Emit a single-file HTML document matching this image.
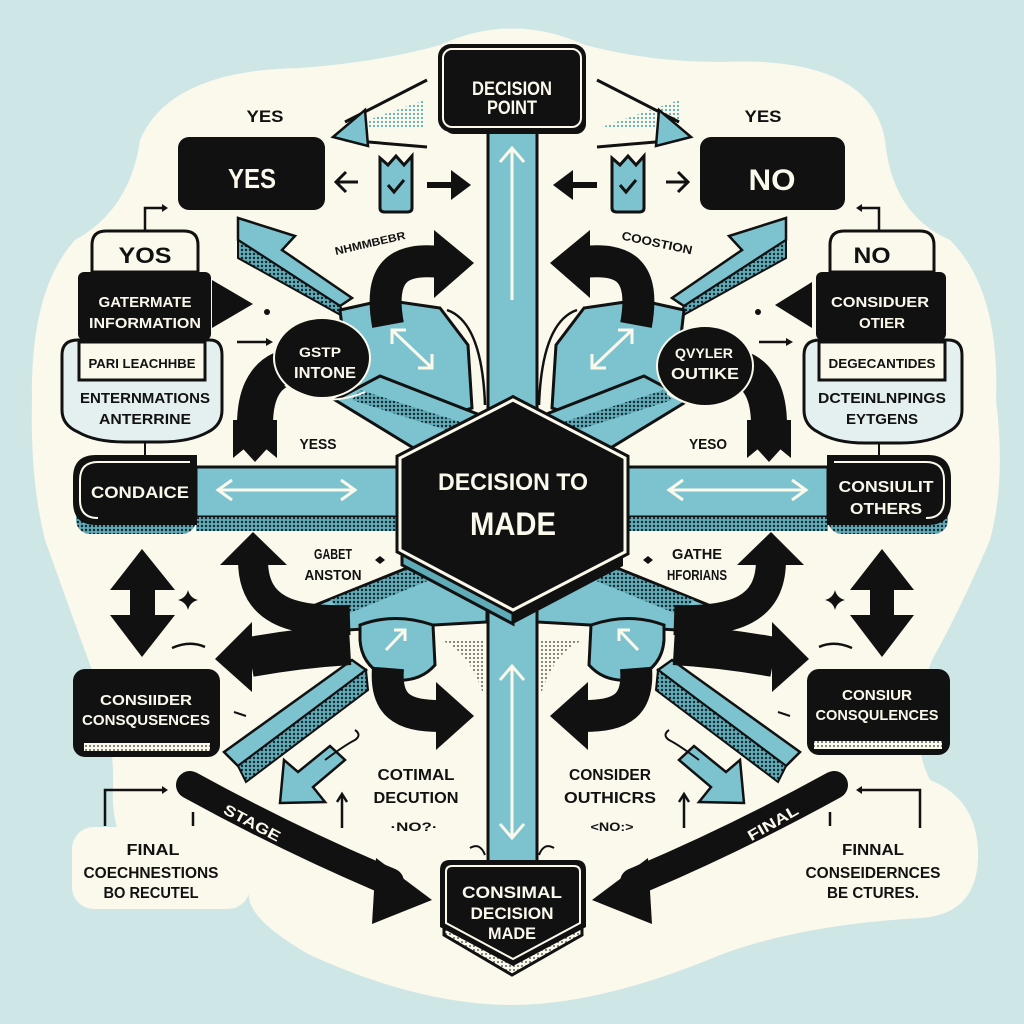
<!DOCTYPE html>
<html><head><meta charset="utf-8"><style>
html,body{margin:0;padding:0;background:#cfe6e7;}
svg{display:block}
text{font-family:"Liberation Sans",sans-serif;font-weight:bold;text-anchor:middle}
.w{fill:#fbf9ec}.k{fill:#111}
</style></head><body>
<svg width="1024" height="1024" viewBox="0 0 1024 1024" xmlns="http://www.w3.org/2000/svg">
<defs>
<pattern id="ht" width="4" height="4" patternUnits="userSpaceOnUse"><rect width="4" height="4" fill="#5fabb8"/><circle cx="2" cy="2" r="1.2" fill="#14262c"/></pattern>
<pattern id="hl" width="4" height="4" patternUnits="userSpaceOnUse"><rect width="4" height="4" fill="#fbf9ec"/><circle cx="2" cy="2" r="0.9" fill="#333"/></pattern>
<pattern id="hb" width="4" height="4" patternUnits="userSpaceOnUse"><rect width="4" height="4" fill="#fbf9ec"/><circle cx="2" cy="2" r="1.1" fill="#5fabb8"/></pattern>
</defs>
<rect width="1024" height="1024" fill="#cfe6e7"/>
<!-- cream blob -->
<path fill="#fbf9ec" d="M440 45 Q512 12 585 45 Q650 62 720 62 Q870 55 885 140 Q892 215 950 240 Q1000 290 996 400 Q1006 480 990 540 Q960 610 932 660 Q905 730 930 780 Q980 800 978 860 Q975 915 920 918 Q800 925 720 955 Q600 1005 512 1005 Q420 1005 310 955 Q240 915 250 888 L150 885 Q110 840 113 790 Q115 730 92 670 Q70 610 45 540 Q30 480 32 400 Q30 290 75 240 Q130 210 140 140 Q170 70 300 68 Q380 62 440 45 Z"/>
<rect x="72" y="827" width="178" height="82" rx="22" fill="#fbf9ec"/>
<rect x="779" y="827" width="178" height="82" rx="22" fill="#fbf9ec"/>

<!-- vertical bars -->
<rect x="488" y="126" width="49" height="300" fill="#7cc3cf" stroke="#111" stroke-width="3"/>
<line x1="512" y1="148" x2="512" y2="300" stroke="#fbf9ec" stroke-width="3"/>
<polyline points="500,162 512,148 524,162" fill="none" stroke="#fbf9ec" stroke-width="3"/>
<rect x="488" y="595" width="49" height="270" fill="#7cc3cf" stroke="#111" stroke-width="3"/>
<line x1="512" y1="666" x2="512" y2="838" stroke="#fbf9ec" stroke-width="3"/>
<polyline points="500,680 512,666 524,680" fill="none" stroke="#fbf9ec" stroke-width="3"/>
<polyline points="500,824 512,838 524,824" fill="none" stroke="#fbf9ec" stroke-width="3"/>

<!-- horizontal bars -->
<rect x="196" y="467" width="210" height="50" fill="#7cc3cf" stroke="#111" stroke-width="3"/>
<rect x="196" y="517" width="200" height="14" fill="url(#ht)"/>
<line x1="218" y1="490" x2="355" y2="490" stroke="#fbf9ec" stroke-width="3"/>
<polyline points="232,480 218,490 232,500" fill="none" stroke="#fbf9ec" stroke-width="3"/>
<polyline points="341,480 355,490 341,500" fill="none" stroke="#fbf9ec" stroke-width="3"/>
<rect x="618" y="467" width="210" height="50" fill="#7cc3cf" stroke="#111" stroke-width="3"/>
<rect x="628" y="517" width="200" height="14" fill="url(#ht)"/>
<line x1="669" y1="490" x2="806" y2="490" stroke="#fbf9ec" stroke-width="3"/>
<polyline points="683,480 669,490 683,500" fill="none" stroke="#fbf9ec" stroke-width="3"/>
<polyline points="792,480 806,490 792,500" fill="none" stroke="#fbf9ec" stroke-width="3"/>

<!-- upper zigzag ribbons -->
<polygon points="238,218 295,236 282,250 352,298 340,306 238,240" fill="#7cc3cf" stroke="#111" stroke-width="2.5"/>
<polygon points="238,240 340,306 346,318 238,258" fill="url(#ht)" stroke="#111" stroke-width="2"/>
<polygon points="786,218 729,236 742,250 672,298 684,306 786,240" fill="#7cc3cf" stroke="#111" stroke-width="2.5"/>
<polygon points="786,240 684,306 678,318 786,258" fill="url(#ht)" stroke="#111" stroke-width="2"/>

<!-- upper blue regions -->
<polygon points="340,310 385,300 440,308 468,345 472,408 440,418 350,395" fill="#7cc3cf" stroke="#111" stroke-width="3"/>
<polygon points="335,400 380,376 480,415 470,440 420,452" fill="#7cc3cf" stroke="#111" stroke-width="3"/>
<polygon points="360,390 470,425 465,436 352,400" fill="url(#ht)"/>
<line x1="392" y1="330" x2="432" y2="368" stroke="#fbf9ec" stroke-width="3"/>
<polyline points="392,344 392,330 406,330" fill="none" stroke="#fbf9ec" stroke-width="3"/>
<polyline points="432,354 432,368 418,368" fill="none" stroke="#fbf9ec" stroke-width="3"/>
<polygon points="684,310 639,300 584,308 556,345 552,408 584,418 674,395" fill="#7cc3cf" stroke="#111" stroke-width="3"/>
<polygon points="689,400 644,376 544,415 554,440 604,452" fill="#7cc3cf" stroke="#111" stroke-width="3"/>
<polygon points="664,390 554,425 559,436 672,400" fill="url(#ht)"/>
<line x1="632" y1="330" x2="592" y2="368" stroke="#fbf9ec" stroke-width="3"/>
<polyline points="632,344 632,330 618,330" fill="none" stroke="#fbf9ec" stroke-width="3"/>
<polyline points="592,354 592,368 606,368" fill="none" stroke="#fbf9ec" stroke-width="3"/>

<!-- lower blue regions -->
<polygon points="313,606 407,568 487,605 487,622 347,630" fill="#7cc3cf" stroke="#111" stroke-width="3"/>
<polygon points="330,600 407,570 430,580 345,615" fill="url(#ht)"/>
<path d="M360 625 Q395 612 433 625 L435 665 Q420 682 395 680 Q362 670 360 640 Z" fill="#7cc3cf" stroke="#111" stroke-width="3"/>
<line x1="386" y1="650" x2="405" y2="630" stroke="#fbf9ec" stroke-width="3"/>
<polyline points="394,630 405,630 405,641" fill="none" stroke="#fbf9ec" stroke-width="3"/>
<polygon points="711,606 617,568 537,605 537,622 677,630" fill="#7cc3cf" stroke="#111" stroke-width="3"/>
<polygon points="694,600 617,570 594,580 679,615" fill="url(#ht)"/>
<path d="M664 625 Q629 612 591 625 L589 665 Q604 682 629 680 Q662 670 664 640 Z" fill="#7cc3cf" stroke="#111" stroke-width="3"/>
<line x1="638" y1="650" x2="619" y2="630" stroke="#fbf9ec" stroke-width="3"/>
<polyline points="630,630 619,630 619,641" fill="none" stroke="#fbf9ec" stroke-width="3"/>
<path d="M440 640 Q470 650 485 700 L485 640 Z" fill="url(#hl)"/>
<path d="M584 640 Q554 650 539 700 L539 640 Z" fill="url(#hl)"/>

<!-- lower 3D bars -->
<polygon points="224,752 352,660 366,670 238,766" fill="#7cc3cf" stroke="#111" stroke-width="2.5"/>
<polygon points="238,766 366,670 368,690 246,782" fill="url(#ht)" stroke="#111" stroke-width="2"/>
<polygon points="800,752 672,660 658,670 786,766" fill="#7cc3cf" stroke="#111" stroke-width="2.5"/>
<polygon points="786,766 658,670 656,690 778,782" fill="url(#ht)" stroke="#111" stroke-width="2"/>

<!-- blue small down arrows -->
<polygon points="280,803 284,760 298,772 330,746 345,760 313,787 325,802" fill="#7cc3cf" stroke="#111" stroke-width="2.5"/>
<polygon points="744,803 740,760 726,772 694,746 679,760 711,787 699,802" fill="#7cc3cf" stroke="#111" stroke-width="2.5"/>

<!-- black curved arrows upper -->
<path d="M388 325 C378 270 400 258 440 262" fill="none" stroke="#111" stroke-width="32"/>
<polygon points="434,230 474,263 434,298" fill="#111"/>
<path d="M636 325 C646 270 624 258 584 262" fill="none" stroke="#111" stroke-width="32"/>
<polygon points="590,230 550,263 590,298" fill="#111"/>
<path d="M447 310 Q482 322 485 405" fill="none" stroke="#111" stroke-width="2.5"/>
<path d="M577 310 Q542 322 539 405" fill="none" stroke="#111" stroke-width="2.5"/>
<!-- arms to down arrows -->
<path d="M300 365 Q255 368 255 425" fill="none" stroke="#111" stroke-width="36"/>
<polygon points="233,420 277,420 277,458 255,440 233,458" fill="#111"/>
<polygon points="235,440 255,462 275,440" fill="#111"/>
<path d="M724 365 Q769 368 769 425" fill="none" stroke="#111" stroke-width="36"/>
<polygon points="747,420 791,420 791,458 769,440 747,458" fill="#111"/>
<polygon points="749,440 769,462 789,440" fill="#111"/>

<!-- blobs -->
<ellipse cx="322" cy="358" rx="48" ry="40" fill="#111" stroke="#fbf9ec" stroke-width="2"/>
<path d="M285 385 Q322 410 365 392" fill="none" stroke="#fbf9ec" stroke-width="2"/>
<ellipse cx="705" cy="366" rx="48" ry="40" fill="#111" stroke="#fbf9ec" stroke-width="2"/>
<path d="M667 393 Q705 418 745 398" fill="none" stroke="#fbf9ec" stroke-width="2"/>
<text x="320" y="357" font-size="14" class="w" textLength="42" lengthAdjust="spacingAndGlyphs">GSTP</text>
<text x="325" y="378" font-size="16" class="w" textLength="62" lengthAdjust="spacingAndGlyphs">INTONE</text>
<text x="704" y="358" font-size="14" class="w" textLength="58" lengthAdjust="spacingAndGlyphs">QVYLER</text>
<text x="705" y="379" font-size="16" class="w" textLength="68" lengthAdjust="spacingAndGlyphs">OUTIKE</text>

<!-- lower black curved arrows -->
<path d="M253 560 C253 610 290 622 350 620" fill="none" stroke="#111" stroke-width="30"/>
<polygon points="220,565 253,532 287,565" fill="#111"/>
<path d="M350 645 Q300 648 250 657" fill="none" stroke="#111" stroke-width="40"/>
<polygon points="252,622 215,659 252,692" fill="#111"/>
<path d="M388 668 C385 705 402 716 440 716" fill="none" stroke="#111" stroke-width="32"/>
<polygon points="436,682 474,716 436,750" fill="#111"/>
<path d="M771 560 C771 610 734 622 674 620" fill="none" stroke="#111" stroke-width="30"/>
<polygon points="804,565 771,532 737,565" fill="#111"/>
<path d="M674 645 Q724 648 774 657" fill="none" stroke="#111" stroke-width="40"/>
<polygon points="772,622 809,659 772,692" fill="#111"/>
<path d="M636 668 C639 705 622 716 584 716" fill="none" stroke="#111" stroke-width="32"/>
<polygon points="588,682 550,716 588,750" fill="#111"/>

<!-- hexagon -->
<polygon points="402,548 513,607 513,624 402,565" fill="#5fabb8" stroke="#111" stroke-width="3"/>
<polygon points="513,607 623,550 623,566 513,624" fill="#111"/>
<polygon points="513,400 625,458 625,552 513,610 400,550 400,458" fill="#111" stroke="#111" stroke-width="9"/>
<polygon points="513,400 625,458 625,552 513,610 400,550 400,458" fill="none" stroke="#fbf9ec" stroke-width="3"/>
<text x="513" y="490" font-size="24" class="w" textLength="150" lengthAdjust="spacingAndGlyphs" font-weight="normal">DECISION TO</text>
<text x="513" y="535" font-size="32" class="w" textLength="86" lengthAdjust="spacingAndGlyphs" font-weight="normal">MADE</text>

<!-- decision point box -->
<rect x="444" y="52" width="142" height="82" rx="10" fill="#111"/>
<rect x="440" y="46" width="144" height="84" rx="11" fill="#111" stroke="#111" stroke-width="4"/>
<rect x="443" y="49" width="138" height="78" rx="9" fill="#111" stroke="#fbf9ec" stroke-width="2"/>
<text x="512" y="95" font-size="19" class="w" textLength="80" lengthAdjust="spacingAndGlyphs">DECISION</text>
<text x="512" y="114" font-size="19" class="w" textLength="50" lengthAdjust="spacingAndGlyphs">POINT</text>

<!-- top speed arrows -->
<polygon points="345,128 425,100 425,128" fill="url(#hb)"/>
<line x1="427" y1="80" x2="345" y2="122" stroke="#111" stroke-width="3"/>
<line x1="427" y1="147" x2="345" y2="140" stroke="#111" stroke-width="3"/>
<polygon points="333,137 365,110 368,146" fill="#7cc3cf" stroke="#111" stroke-width="2.5"/>
<polygon points="599,128 679,100 679,128" fill="url(#hb)" transform="translate(0,0)"/>
<line x1="597" y1="80" x2="679" y2="122" stroke="#111" stroke-width="3"/>
<line x1="597" y1="147" x2="679" y2="140" stroke="#111" stroke-width="3"/>
<polygon points="691,137 659,110 656,146" fill="#7cc3cf" stroke="#111" stroke-width="2.5"/>

<!-- YES / NO boxes -->
<rect x="178" y="137" width="147" height="73" rx="11" fill="#111"/>
<text x="252" y="188" font-size="28" class="w" textLength="48" lengthAdjust="spacingAndGlyphs">YES</text>
<rect x="700" y="137" width="145" height="73" rx="11" fill="#111"/>
<text x="772" y="190" font-size="30" class="w" textLength="47" lengthAdjust="spacingAndGlyphs">NO</text>
<text x="265" y="122" font-size="17" class="k" textLength="37" lengthAdjust="spacingAndGlyphs">YES</text>
<text x="763" y="122" font-size="17" class="k" textLength="37" lengthAdjust="spacingAndGlyphs">YES</text>

<!-- shields and small arrows -->
<path d="M380 158 L388 165 L396 156 L404 165 L412 156 L412 208 Q412 212 407 212 L385 212 Q380 212 380 208 Z" fill="#7cc3cf" stroke="#111" stroke-width="3"/>
<polyline points="388,185 394,192 404,180" fill="none" stroke="#111" stroke-width="3"/>
<path d="M612 158 L620 165 L628 156 L636 165 L644 156 L644 208 Q644 212 639 212 L617 212 Q612 212 612 208 Z" fill="#7cc3cf" stroke="#111" stroke-width="3"/>
<polyline points="620,185 626,192 636,180" fill="none" stroke="#111" stroke-width="3"/>
<line x1="336" y1="182" x2="358" y2="182" stroke="#111" stroke-width="3"/>
<polyline points="346,172 336,182 346,192" fill="none" stroke="#111" stroke-width="3"/>
<line x1="427" y1="185" x2="455" y2="185" stroke="#111" stroke-width="6"/>
<polygon points="451,170 471,185 451,200" fill="#111"/>
<line x1="666" y1="182" x2="688" y2="182" stroke="#111" stroke-width="3"/>
<polyline points="678,172 688,182 678,192" fill="none" stroke="#111" stroke-width="3"/>
<line x1="597" y1="185" x2="569" y2="185" stroke="#111" stroke-width="6"/>
<polygon points="573,170 553,185 573,200" fill="#111"/>

<text x="370" y="247" font-size="11" class="k" transform="rotate(-13 370 243)" textLength="72" lengthAdjust="spacingAndGlyphs">NHMMBEBR</text>
<text x="657" y="247" font-size="12" class="k" transform="rotate(12 657 243)" textLength="72" lengthAdjust="spacingAndGlyphs">COOSTION</text>

<!-- left stack -->
<path d="M145 231 V208 H163" fill="none" stroke="#111" stroke-width="2.5"/>
<polygon points="162,204 168,208 162,212" fill="#111"/>
<path d="M92 272 V245 Q92 231 106 231 H184 Q198 231 198 245 V272 Z" fill="#fbf9ec" stroke="#111" stroke-width="3"/>
<text x="145" y="263" font-size="22" class="k" textLength="53" lengthAdjust="spacingAndGlyphs">YOS</text>
<rect x="78" y="272" width="133" height="68" rx="6" fill="#111"/>
<text x="145" y="307" font-size="15" class="w" textLength="93" lengthAdjust="spacingAndGlyphs">GATERMATE</text>
<text x="145" y="328" font-size="15" class="w" textLength="112" lengthAdjust="spacingAndGlyphs">INFORMATION</text>
<path d="M78 340 H210 Q222 340 222 355 V410 Q222 425 208 432 Q190 442 160 442 H125 Q95 442 78 432 Q62 425 62 410 V355 Q62 340 78 340 Z" fill="#e4f0ef" stroke="#111" stroke-width="3"/>
<rect x="79" y="342" width="126" height="38" fill="#fbf9ec" stroke="#111" stroke-width="3"/>
<text x="142" y="368" font-size="13" class="k" textLength="107" lengthAdjust="spacingAndGlyphs">PARI LEACHHBE</text>
<text x="145" y="403" font-size="15" class="k" textLength="130" lengthAdjust="spacingAndGlyphs">ENTERNMATIONS</text>
<text x="145" y="424" font-size="15" class="k" textLength="92" lengthAdjust="spacingAndGlyphs">ANTERRINE</text>
<line x1="145" y1="442" x2="145" y2="455" stroke="#111" stroke-width="2"/>
<polygon points="212,280 253,304 212,328" fill="#111"/>
<circle cx="267" cy="312" r="3" fill="#111"/>
<line x1="237" y1="342" x2="268" y2="342" stroke="#111" stroke-width="2.5"/>
<polygon points="266,338 273,342 266,346" fill="#111"/>

<!-- right stack -->
<path d="M879 231 V208 H861" fill="none" stroke="#111" stroke-width="2.5"/>
<polygon points="862,204 856,208 862,212" fill="#111"/>
<path d="M830 272 V245 Q830 231 844 231 H920 Q934 231 934 245 V272 Z" fill="#fbf9ec" stroke="#111" stroke-width="3"/>
<text x="872" y="263" font-size="22" class="k" textLength="37" lengthAdjust="spacingAndGlyphs">NO</text>
<rect x="816" y="272" width="130" height="68" rx="6" fill="#111"/>
<text x="880" y="307" font-size="15" class="w" textLength="98" lengthAdjust="spacingAndGlyphs">CONSIDUER</text>
<text x="882" y="328" font-size="15" class="w" textLength="46" lengthAdjust="spacingAndGlyphs">OTIER</text>
<path d="M820 340 H948 Q962 340 962 355 V410 Q962 425 948 432 Q930 443 900 443 H865 Q835 443 818 432 Q804 425 804 410 V355 Q804 340 820 340 Z" fill="#e4f0ef" stroke="#111" stroke-width="3"/>
<rect x="819" y="342" width="126" height="38" fill="#fbf9ec" stroke="#111" stroke-width="3"/>
<text x="882" y="368" font-size="13" class="k" textLength="107" lengthAdjust="spacingAndGlyphs">DEGECANTIDES</text>
<text x="882" y="403" font-size="15" class="k" textLength="128" lengthAdjust="spacingAndGlyphs">DCTEINLNPINGS</text>
<text x="882" y="424" font-size="15" class="k" textLength="72" lengthAdjust="spacingAndGlyphs">EYTGENS</text>
<line x1="879" y1="443" x2="879" y2="455" stroke="#111" stroke-width="2"/>
<polygon points="812,282 775,305 812,328" fill="#111"/>
<circle cx="758" cy="312" r="3" fill="#111"/>
<line x1="759" y1="342" x2="788" y2="342" stroke="#111" stroke-width="2.5"/>
<polygon points="786,338 793,342 786,346" fill="#111"/>

<text x="318" y="449" font-size="15" class="k" textLength="37" lengthAdjust="spacingAndGlyphs">YESS</text>
<text x="708" y="449" font-size="15" class="k" textLength="38" lengthAdjust="spacingAndGlyphs">YESO</text>

<!-- CONDAICE / CONSULIT -->
<rect x="76" y="462" width="120" height="72" rx="14" fill="url(#ht)"/>
<path d="M73 478 Q73 455 96 455 H197 V525 H96 Q73 525 73 502 Z" fill="#111"/>
<path d="M80 480 Q80 462 98 462 H190 M80 480 V500 Q80 518 98 518" fill="none" stroke="#fbf9ec" stroke-width="2"/>
<text x="140" y="498" font-size="17" class="w" textLength="98" lengthAdjust="spacingAndGlyphs">CONDAICE</text>
<rect x="828" y="462" width="120" height="72" rx="14" fill="url(#ht)"/>
<path d="M951 478 Q951 455 928 455 H827 V525 H928 Q951 525 951 502 Z" fill="#111"/>
<path d="M944 480 Q944 462 926 462 H834 M944 480 V500 Q944 518 926 518" fill="none" stroke="#fbf9ec" stroke-width="2"/>
<text x="886" y="492" font-size="16" class="w" textLength="95" lengthAdjust="spacingAndGlyphs">CONSIULIT</text>
<text x="886" y="514" font-size="16" class="w" textLength="72" lengthAdjust="spacingAndGlyphs">OTHERS</text>

<text x="333" y="559" font-size="15" class="k" textLength="38" lengthAdjust="spacingAndGlyphs">GABET</text>
<text x="333" y="580" font-size="15" class="k" textLength="57" lengthAdjust="spacingAndGlyphs">ANSTON</text>
<text x="697" y="559" font-size="15" class="k" textLength="50" lengthAdjust="spacingAndGlyphs">GATHE</text>
<text x="697" y="580" font-size="15" class="k" textLength="60" lengthAdjust="spacingAndGlyphs">HFORIANS</text>
<polygon points="380,556 385,560 380,564 375,560" fill="#111"/>
<polygon points="648,556 653,560 648,564 643,560" fill="#111"/>

<!-- double arrows -->
<polygon points="110,590 142,549 175,590 155,590 155,615 175,615 142,657 110,615 130,615 130,590" fill="#111"/>
<polygon points="850,590 882,549 914,590 894,590 894,615 914,615 882,657 850,615 870,615 870,590" fill="#111"/>
<path d="M188 590 Q190 598 198 600 Q190 602 188 610 Q186 602 178 600 Q186 598 188 590 Z" fill="#111"/>
<path d="M835 590 Q837 598 845 600 Q837 602 835 610 Q833 602 825 600 Q833 598 835 590 Z" fill="#111"/>
<path d="M172 648 Q190 640 205 647" fill="none" stroke="#111" stroke-width="2.5"/>
<path d="M852 648 Q834 640 819 647" fill="none" stroke="#111" stroke-width="2.5"/>

<!-- consequences boxes -->
<rect x="73" y="669" width="147" height="88" rx="12" fill="#111"/>
<rect x="84" y="743" width="126" height="8" fill="url(#hl)"/>
<text x="146" y="705" font-size="15" class="w" textLength="92" lengthAdjust="spacingAndGlyphs">CONSIIDER</text>
<text x="146" y="725" font-size="15" class="w" textLength="128" lengthAdjust="spacingAndGlyphs">CONSQUSENCES</text>
<rect x="807" y="669" width="143" height="86" rx="12" fill="#111"/>
<rect x="814" y="741" width="128" height="8" fill="url(#hl)"/>
<text x="877" y="700" font-size="15" class="w" textLength="70" lengthAdjust="spacingAndGlyphs">CONSIUR</text>
<text x="877" y="720" font-size="15" class="w" textLength="123" lengthAdjust="spacingAndGlyphs">CONSQULENCES</text>
<path d="M234 712 L246 716" stroke="#111" stroke-width="2"/>
<path d="M790 716 L778 712" stroke="#111" stroke-width="2"/>

<!-- middle labels -->
<text x="416" y="780" font-size="16" class="k" textLength="77" lengthAdjust="spacingAndGlyphs">COTIMAL</text>
<text x="416" y="803" font-size="16" class="k" textLength="85" lengthAdjust="spacingAndGlyphs">DECUTION</text>
<text x="414" y="831" font-size="12" class="k" textLength="47" lengthAdjust="spacingAndGlyphs">·NO?·</text>
<text x="610" y="780" font-size="16" class="k" textLength="82" lengthAdjust="spacingAndGlyphs">CONSIDER</text>
<text x="610" y="803" font-size="16" class="k" textLength="92" lengthAdjust="spacingAndGlyphs">OUTHICRS</text>
<text x="612" y="831" font-size="12" class="k" textLength="43" lengthAdjust="spacingAndGlyphs">&lt;NO:&gt;</text>
<line x1="342" y1="796" x2="342" y2="828" stroke="#111" stroke-width="2.5"/>
<polyline points="337,802 342,794 347,802" fill="none" stroke="#111" stroke-width="2.5"/>
<line x1="684" y1="796" x2="684" y2="828" stroke="#111" stroke-width="2.5"/>
<polyline points="679,802 684,794 689,802" fill="none" stroke="#111" stroke-width="2.5"/>
<path d="M325 760 Q345 745 355 740 Q362 735 355 730" fill="none" stroke="#111" stroke-width="2"/>
<path d="M699 760 Q679 745 669 740 Q662 735 669 730" fill="none" stroke="#111" stroke-width="2"/>

<!-- big arrows -->
<path d="M190 785 Q290 840 390 882" fill="none" stroke="#111" stroke-width="28" stroke-linecap="round"/>
<polygon points="376,858 432,900 372,924" fill="#111"/>
<text x="252" y="828" font-size="15" class="w" transform="rotate(28 252 823)" textLength="62" lengthAdjust="spacingAndGlyphs">STAGE</text>
<path d="M834 785 Q734 840 634 882" fill="none" stroke="#111" stroke-width="28" stroke-linecap="round"/>
<polygon points="648,858 592,900 652,924" fill="#111"/>
<text x="773" y="828" font-size="15" class="w" transform="rotate(-30 773 823)" textLength="56" lengthAdjust="spacingAndGlyphs">FINAL</text>

<!-- final boxes -->
<path d="M105 826 V790 H163" fill="none" stroke="#111" stroke-width="2.5"/>
<polygon points="162,786 168,790 162,794" fill="#111"/>
<line x1="193" y1="812" x2="193" y2="826" stroke="#111" stroke-width="2.5"/>
<text x="153" y="855" font-size="16" class="k" textLength="53" lengthAdjust="spacingAndGlyphs">FINAL</text>
<text x="151" y="878" font-size="16" class="k" textLength="135" lengthAdjust="spacingAndGlyphs">COECHNESTIONS</text>
<text x="151" y="898" font-size="16" class="k" textLength="95" lengthAdjust="spacingAndGlyphs">BO RECUTEL</text>
<path d="M920 828 V790 H862" fill="none" stroke="#111" stroke-width="2.5"/>
<polygon points="862,786 856,790 862,794" fill="#111"/>
<line x1="830" y1="812" x2="830" y2="826" stroke="#111" stroke-width="2.5"/>
<text x="873" y="855" font-size="16" class="k" textLength="62" lengthAdjust="spacingAndGlyphs">FINNAL</text>
<text x="873" y="878" font-size="16" class="k" textLength="135" lengthAdjust="spacingAndGlyphs">CONSEIDERNCES</text>
<text x="873" y="898" font-size="16" class="k" textLength="92" lengthAdjust="spacingAndGlyphs">BE CTURES.</text>

<!-- bottom pentagon -->
<path d="M444 880 L444 935 L512 975 L582 935 L582 880 Z" fill="url(#hl)" stroke="#111" stroke-width="3"/>
<path d="M440 870 Q440 860 450 860 L576 860 Q586 860 586 870 L586 927 L513 966 L440 927 Z" fill="#111"/>
<path d="M446 872 Q446 866 452 866 L574 866 Q580 866 580 872 L580 923 L513 959 L446 923 Z" fill="none" stroke="#fbf9ec" stroke-width="2"/>
<text x="512" y="898" font-size="17" class="w" textLength="100" lengthAdjust="spacingAndGlyphs" font-weight="normal">CONSIMAL</text>
<text x="512" y="919" font-size="17" class="w" textLength="83" lengthAdjust="spacingAndGlyphs" font-weight="normal">DECISION</text>
<text x="512" y="939" font-size="17" class="w" textLength="48" lengthAdjust="spacingAndGlyphs" font-weight="normal">MADE</text>
<path d="M470 848 Q480 842 485 855" fill="none" stroke="#111" stroke-width="2"/>
<path d="M554 848 Q544 842 539 855" fill="none" stroke="#111" stroke-width="2"/>
</svg>
</body></html>
